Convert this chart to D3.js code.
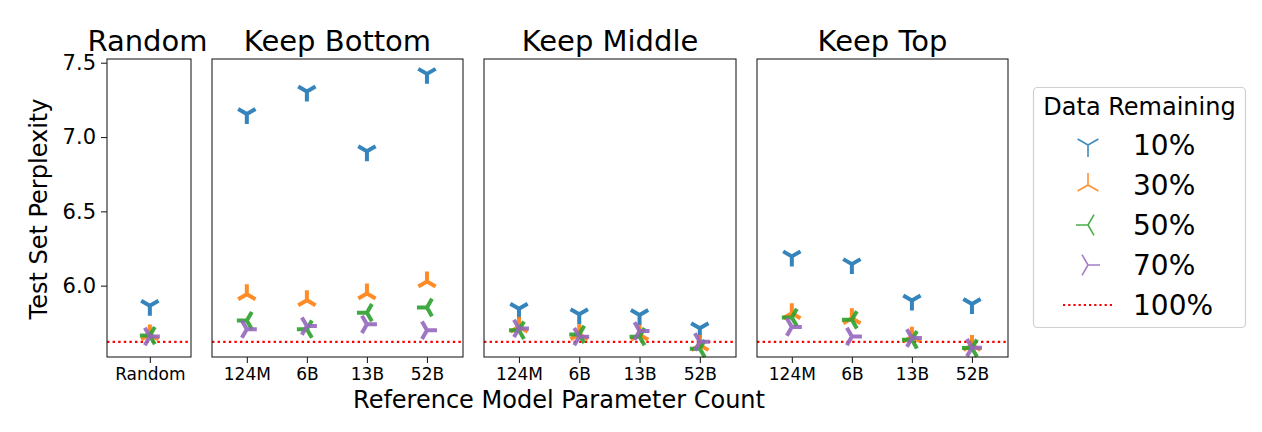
<!DOCTYPE html>
<html>
<head>
<meta charset="utf-8">
<script src="https://cdn.jsdelivr.net/npm/d3@7"></script>
<style>
  html, body { margin: 0; padding: 0; background: #fff; }
  svg { display: block; font-family: "DejaVu Sans", sans-serif; }
</style>
</head>
<body>
<svg id="chart" width="1262" height="432"></svg>
<script>
// ---------- data ----------
const panelTitles = ["Random", "Keep Bottom", "Keep Middle", "Keep Top"];
const randomLabels = ["Random"];
const refModels = ["124M", "6B", "13B", "52B"];
const seriesNames = ["10%", "30%", "50%", "70%"];
const baselineName = "100%";
const yTicks = [6.0, 6.5, 7.0, 7.5];
const fullDataPerplexity = 5.622;

const randomP10 = [5.865];
const randomP30 = [5.672];
const randomP50 = [5.664];
const randomP70 = [5.658];

const bottomP10 = [7.155, 7.306, 6.905, 7.425];
const bottomP30 = [5.942, 5.902, 5.947, 6.028];
const bottomP50 = [5.765, 5.707, 5.818, 5.853];
const bottomP70 = [5.707, 5.728, 5.740, 5.700];

const middleP10 = [5.845, 5.808, 5.802, 5.713];
const middleP30 = [5.724, 5.673, 5.670, 5.600];
const middleP50 = [5.700, 5.672, 5.657, 5.576];
const middleP70 = [5.712, 5.657, 5.695, 5.622];

const topP10 = [6.197, 6.145, 5.900, 5.877];
const topP30 = [5.814, 5.780, 5.657, 5.600];
const topP50 = [5.786, 5.770, 5.636, 5.580];
const topP70 = [5.722, 5.658, 5.648, 5.583];

const colors = ["#1f77b4", "#ff7f0e", "#2ca02c", "#9467bd"];
const markerKinds = ["tri_down", "tri_up", "tri_left", "tri_right"];

// ---------- layout ----------
const svg = d3.select("#chart");
svg.append("rect").attr("width", 1262).attr("height", 432).attr("fill", "#fff");

const plotTop = 59, plotBottom = 357;
const panelBoxes = [
  { x0: 107, x1: 191, labels: randomLabels, series: [randomP10, randomP30, randomP50, randomP70], dom: [-0.51, 0.49] },
  { x0: 212, x1: 463, labels: refModels, series: [bottomP10, bottomP30, bottomP50, bottomP70], dom: [-0.58, 3.6] },
  { x0: 484, x1: 736, labels: refModels, series: [middleP10, middleP30, middleP50, middleP70], dom: [-0.58, 3.6] },
  { x0: 757, x1: 1008, labels: refModels, series: [topP10, topP30, topP50, topP70], dom: [-0.58, 3.6] }
];

const y = d3.scaleLinear().domain([5.52, 7.525]).range([plotBottom, plotTop]);

function triPath(kind, r) {
  const a = 0.8660254 * r, b = 0.5 * r;
  let pts;
  if (kind === "tri_down") pts = [[0, r], [-a, -b], [a, -b]];
  else if (kind === "tri_up") pts = [[0, -r], [-a, b], [a, b]];
  else if (kind === "tri_left") pts = [[-r, 0], [b, -a], [b, a]];
  else pts = [[r, 0], [-b, -a], [-b, a]];
  return pts.map(p => `M0,0L${p[0].toFixed(2)},${p[1].toFixed(2)}`).join("");
}

panelBoxes.forEach((pb, pi) => {
  const x = d3.scaleLinear().domain(pb.dom).range([pb.x0, pb.x1]);
  const g = svg.append("g");

  // baseline (100% data)
  g.append("line")
    .attr("x1", pb.x0).attr("x2", pb.x1)
    .attr("y1", y(fullDataPerplexity)).attr("y2", y(fullDataPerplexity))
    .attr("stroke", "#ff0000").attr("stroke-width", 2.2)
    .attr("stroke-dasharray", "2.4,3.2");

  // markers
  pb.series.forEach((vals, si) => {
    g.selectAll(null).data(vals).enter().append("path")
      .attr("d", triPath(markerKinds[si], 10))
      .attr("transform", (d, i) => `translate(${x(i)},${y(d)})`)
      .attr("fill", "none")
      .attr("stroke", colors[si])
      .attr("stroke-width", 4)
      .attr("stroke-opacity", 0.9);
  });

  // frame
  g.append("rect")
    .attr("x", pb.x0).attr("y", plotTop)
    .attr("width", pb.x1 - pb.x0).attr("height", plotBottom - plotTop)
    .attr("fill", "none").attr("stroke", "#222").attr("stroke-width", 1.1);

  // x axis
  const xAxis = d3.axisBottom(x)
    .tickValues(d3.range(pb.labels.length))
    .tickFormat(i => pb.labels[i])
    .tickSize(6).tickPadding(5);
  const ax = svg.append("g").attr("transform", `translate(0,${plotBottom})`).call(xAxis);
  ax.select(".domain").remove();
  ax.selectAll(".tick line").attr("stroke", "#222").attr("stroke-width", 1.1);
  ax.selectAll(".tick text").attr("font-size", 17).attr("fill", "#000")
    .attr("font-family", "DejaVu Sans");

  // title
  svg.append("text")
    .attr("x", (pb.x0 + pb.x1) / 2 - (pi === 0 ? 1.5 : 0))
    .attr("y", 51)
    .attr("text-anchor", "middle")
    .attr("font-size", 29)
    .attr("fill", "#000")
    .text(panelTitles[pi]);

  // y axis only on first panel
  if (pi === 0) {
    const yAxis = d3.axisLeft(y).tickValues(yTicks).tickFormat(d3.format(".1f"))
      .tickSize(6).tickPadding(5);
    const ay = svg.append("g").attr("transform", `translate(${pb.x0},0)`).call(yAxis);
    ay.select(".domain").remove();
    ay.selectAll(".tick line").attr("stroke", "#222").attr("stroke-width", 1.1);
    ay.selectAll(".tick text").attr("font-size", 21).attr("fill", "#000")
      .attr("font-family", "DejaVu Sans");
  }
});

// axis labels
svg.append("text")
  .attr("transform", "translate(47,209) rotate(-90)")
  .attr("text-anchor", "middle")
  .attr("font-size", 24).attr("fill", "#000")
  .text("Test Set Perplexity");

svg.append("text")
  .attr("x", 559).attr("y", 408)
  .attr("text-anchor", "middle")
  .attr("font-size", 24).attr("fill", "#000")
  .text("Reference Model Parameter Count");

// legend
const lg = svg.append("g");
lg.append("rect")
  .attr("x", 1033.5).attr("y", 87.5).attr("width", 212).attr("height", 240)
  .attr("rx", 4).attr("fill", "#fff").attr("stroke", "#d0d0d0").attr("stroke-width", 1.2);
lg.append("text")
  .attr("x", 1139.5).attr("y", 115)
  .attr("text-anchor", "middle").attr("font-size", 24).attr("fill", "#000")
  .text("Data Remaining");

const legendRows = seriesNames.concat([baselineName]);
legendRows.forEach((name, i) => {
  const cy = 145 + i * 40;
  if (i < seriesNames.length) {
    lg.append("path")
      .attr("d", triPath(markerKinds[i], 12))
      .attr("transform", `translate(1088,${cy})`)
      .attr("fill", "none").attr("stroke", colors[i])
      .attr("stroke-width", 1.6).attr("stroke-opacity", 0.85);
  } else {
    lg.append("line")
      .attr("x1", 1063).attr("x2", 1112).attr("y1", cy).attr("y2", cy)
      .attr("stroke", "#ff0000").attr("stroke-width", 2)
      .attr("stroke-dasharray", "2.2,3");
  }
  lg.append("text")
    .attr("x", 1133).attr("y", cy + 10)
    .attr("font-size", 28).attr("fill", "#000")
    .text(name);
});
</script>
</body>
</html>
